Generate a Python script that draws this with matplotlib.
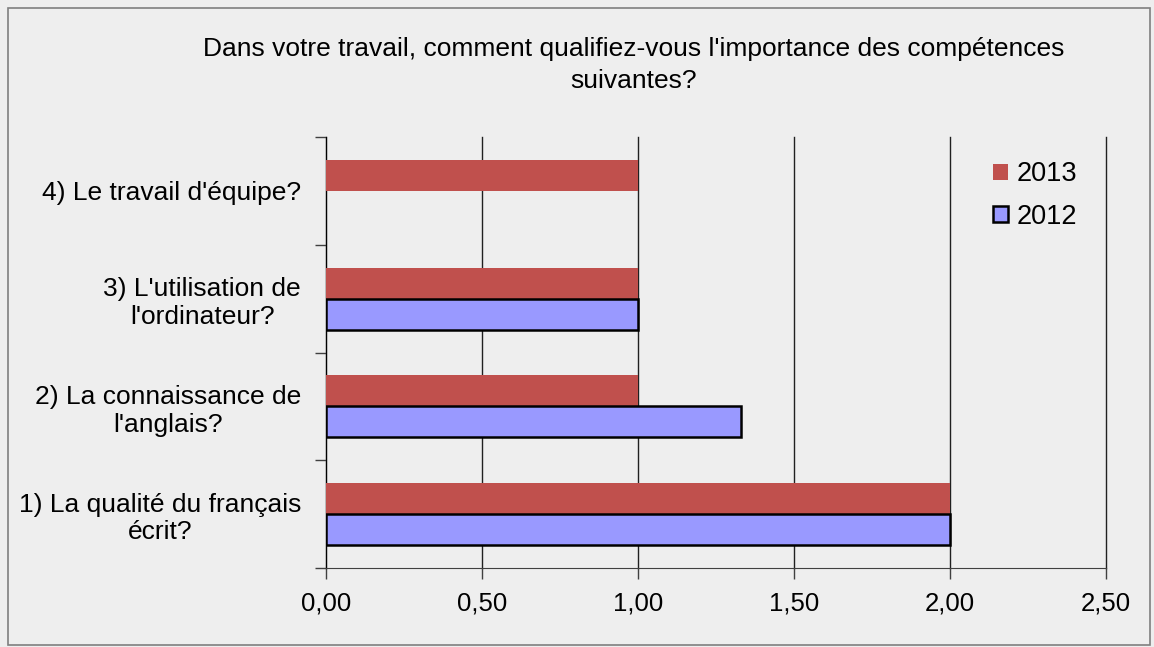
import matplotlib
matplotlib.use("Agg")
import matplotlib.pyplot as plt
import matplotlib.patches as patches
import numpy as np

categories = [
    "1) La qualité du français\nécrit?",
    "2) La connaissance de\nl'anglais?",
    "3) L'utilisation de\nl'ordinateur?",
    "4) Le travail d'équipe?",
]
values2013 = [2.00, 1.00, 1.00, 1.00]
values2012 = [2.00, 1.33, 1.00, 0.00]
xticks = [0.0, 0.5, 1.0, 1.5, 2.0, 2.5]
xtickLabels = ["0,00", "0,50", "1,00", "1,50", "2,00", "2,50"]
title = "Dans votre travail, comment qualifiez-vous l'importance des compétences\nsuivantes?"

bg = "#EEEEEE"
red = "#C0504D"
blue = "#9999FF"


def main():
    plt.rcParams["font.family"] = ["Liberation Sans", "DejaVu Sans"]
    fig = plt.figure(figsize=(11.54, 6.47), dpi=100)
    fig.patch.set_facecolor(bg)
    W, H = 1154, 647
    ax = fig.add_axes([326 / W, 79 / H, 780 / W, 431 / H])
    ax.set_facecolor(bg)

    # outer border
    fig.patches.append(patches.Rectangle((8 / W, 2 / H), 1142 / W, 637 / H,
                                         transform=fig.transFigure, fill=False,
                                         edgecolor="#7F7F7F", linewidth=1.2))

    y = np.arange(len(categories))
    h = 0.287
    ax.barh(y + h / 2, values2013, height=h, color=red, label="2013", zorder=3)
    edges = ["black" if v > 0 else "none" for v in values2012]
    ax.barh(y - h / 2, values2012, height=h, color=blue, edgecolor=edges,
            linewidth=1.8, label="2012", zorder=3)

    ax.set_xlim(0, 2.5)
    ax.set_ylim(-0.5, len(categories) - 0.5)
    ax.set_xticks(xticks)
    ax.set_xticklabels(xtickLabels, fontsize=18.5)
    ax.xaxis.grid(True, color="#202020", linewidth=1.0, zorder=0)
    for gl in ax.get_xgridlines():
        gl.set_clip_on(False)
    ax.set_axisbelow(True)

    ax.set_yticks(np.arange(-0.5, len(categories), 1.0))
    ax.set_yticklabels([])
    ax.set_yticks(y, minor=True)
    ax.set_yticklabels(categories, minor=True, fontsize=19, multialignment="center")
    ax.tick_params(axis="y", which="minor", length=0, pad=18)
    ax.tick_params(axis="y", which="major", length=8, width=1, color="#404040")
    ax.tick_params(axis="x", length=8, width=1, color="#404040", pad=9)

    for side in ["top", "right"]:
        ax.spines[side].set_visible(False)
    ax.spines["bottom"].set_color("#404040")
    ax.spines["left"].set_color("black")

    handles, labels = ax.get_legend_handles_labels()
    fig.legend(handles, labels, loc="upper left",
               bbox_to_anchor=(969 / W, 1 - 137 / H), frameon=False,
               fontsize=19.5, handlelength=0.55, handleheight=0.55,
               handletextpad=0.3, labelspacing=0.6)

    fig.text(634 / W, 1 - 65 / H, title, ha="center", va="center",
             fontsize=19, linespacing=1.4)

    fig.savefig("out.png", dpi=100, facecolor=bg)


if __name__ == "__main__":
    main()
